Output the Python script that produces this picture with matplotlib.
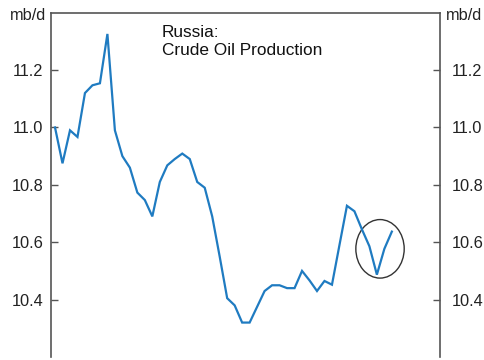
import matplotlib
matplotlib.use("Agg")
import matplotlib.pyplot as plt
import matplotlib.transforms as mtransforms
from matplotlib.patches import Ellipse
import numpy as np

plt.rcParams['font.family'] = ['Liberation Sans', 'DejaVu Sans']

production = [11.0, 10.875, 10.99, 10.967, 11.12, 11.147, 11.154, 11.326, 10.99, 10.90,
              10.86, 10.773, 10.747, 10.69, 10.81, 10.868, 10.89, 10.909, 10.89, 10.81,
              10.79, 10.69, 10.55, 10.405, 10.38, 10.32, 10.32, 10.375, 10.43, 10.45,
              10.45, 10.44, 10.44, 10.50, 10.467, 10.43, 10.465, 10.452, 10.59, 10.727,
              10.708, 10.645, 10.586, 10.487, 10.577, 10.637]
yticks = [10.4, 10.6, 10.8, 11.0, 11.2]
ytick_labels = ["10.4", "10.6", "10.8", "11.0", "11.2"]
title = "Russia:\nCrude Oil Production"
unit = "mb/d"

x = np.arange(len(production))

fig = plt.figure(figsize=(4.85, 3.6), dpi=100)
ax = fig.add_axes([51.5/485, 3/360, (440.5-51.5)/485, (357-12.7)/360])

ax.plot(x, production, color='#1f7bc1', linewidth=1.6, solid_joinstyle='miter')

ax.set_xlim(-0.47, 51.5)
ax.set_ylim(10.2, 11.4)

ax.spines['bottom'].set_visible(False)
for s in ['left', 'right', 'top']:
    ax.spines[s].set_color('#555555')
    ax.spines[s].set_linewidth(1.2)

ax.set_xticks([])
ax.set_yticks(yticks)
ax.set_yticklabels(ytick_labels)
ax.tick_params(axis='y', which='both', direction='in', length=5, width=1,
               color='#555555', labelsize=11.8, labelcolor='#222222',
               left=True, right=True, labelleft=True, labelright=True, pad=6)
offset = mtransforms.ScaledTranslation(3/100, 0, fig.dpi_scale_trans)
for tick in ax.yaxis.get_major_ticks():
    tick.label2.set_transform(tick.label2.get_transform() + offset)

ell = Ellipse((43.42, 10.577), width=6.46, height=0.204, fill=False,
              edgecolor='#333333', linewidth=1.0)
ax.add_patch(ell)

fig.text(162/485, 1 - 25/360, title, fontsize=12.4, color='#111111',
         ha='left', va='top', linespacing=1.25)
fig.text(28/485, 1 - 15/360, unit, fontsize=11.8, color='#222222', ha='center', va='center')
fig.text(464/485, 1 - 15/360, unit, fontsize=11.8, color='#222222', ha='center', va='center')

fig.savefig('out.png', dpi=100)
